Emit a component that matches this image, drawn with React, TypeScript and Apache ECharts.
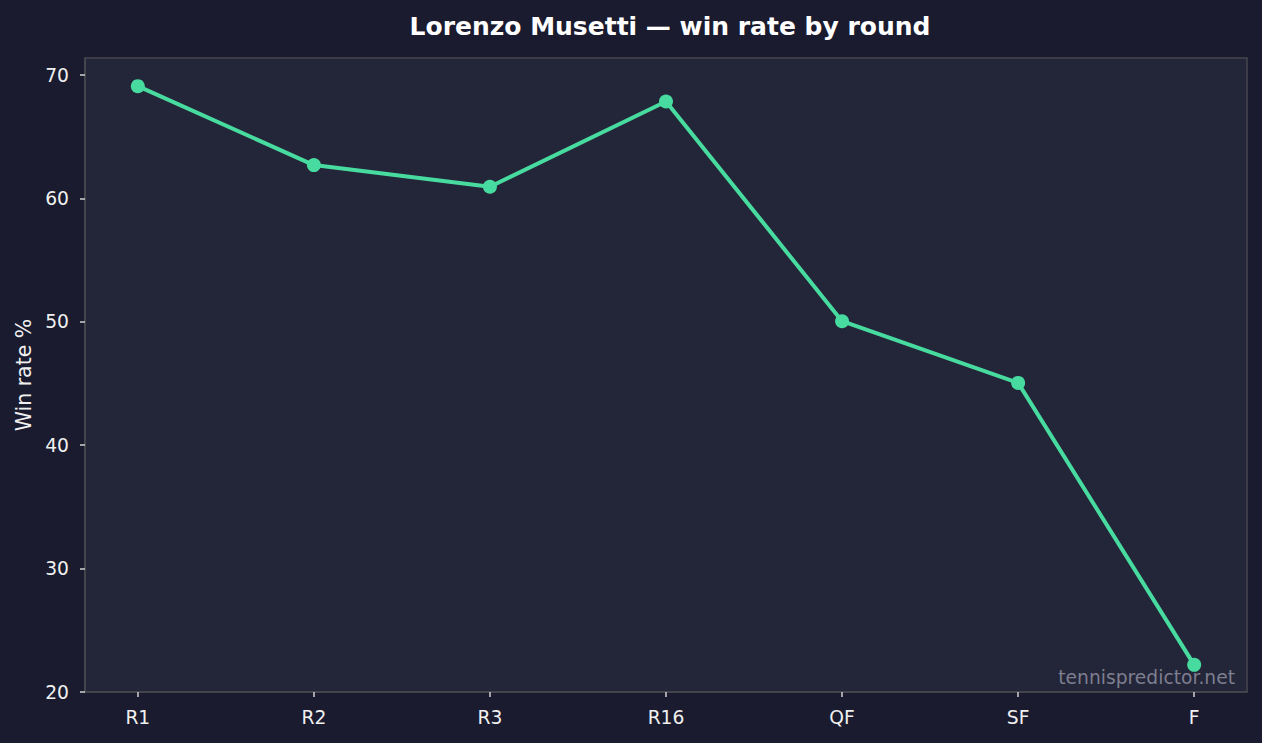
import React, { useEffect, useRef } from "react";
import * as echarts from "echarts";

const rounds = ["R1", "R2", "R3", "R16", "QF", "SF", "F"];
const winRates = [69.1, 62.7, 60.95, 67.85, 50.05, 45.05, 22.2];
const yTicks = [20, 30, 40, 50, 60, 70];

const titleText = "Lorenzo Musetti — win rate by round";
const watermark = "tennispredictor.net";

export default function App() {
  const ref = useRef<HTMLDivElement>(null);
  useEffect(() => {
    if (!ref.current) return;
    const chart = echarts.init(ref.current, null, { renderer: "svg" });
    const font = "DejaVu Sans";
    const xIdx = rounds.map((_, i) => i);
    chart.setOption({
      animation: false,
      backgroundColor: "#1a1b2e",
      textStyle: { fontFamily: font },
      title: {
        text: titleText,
        left: 665,
        top: 9,
        textAlign: "center",
        textStyle: { color: "#ffffff", fontSize: 25, fontWeight: "bold", fontFamily: font },
      },
      grid: {
        left: 85,
        right: 15,
        top: 58,
        bottom: 51,
        show: true,
        backgroundColor: "#232538",
        borderColor: "#47474f",
        borderWidth: 1.5,
      },
      xAxis: {
        type: "value",
        min: -0.3,
        max: 6.3,
        splitLine: { show: false },
        axisLine: { show: true, onZero: false, lineStyle: { color: "#47474f", width: 1.5 } },
        axisTick: {
          show: true,
          customValues: xIdx,
          length: 5,
          lineStyle: { color: "#d0d0d0", width: 1.5 },
        },
        axisLabel: {
          customValues: xIdx,
          color: "#f0f0f0",
          fontSize: 18.7,
          margin: 16,
          fontFamily: font,
          formatter: (v: number) => rounds[Math.round(v)] ?? "",
        },
      },
      yAxis: {
        type: "value",
        min: 20,
        max: 71.38,
        name: "Win rate %",
        nameLocation: "middle",
        nameGap: 51,
        nameTextStyle: { color: "#f0f0f0", fontSize: 20.5, fontFamily: font },
        splitLine: { show: false },
        axisLine: { show: true, onZero: false, lineStyle: { color: "#47474f", width: 1.5 } },
        axisTick: {
          show: true,
          customValues: yTicks,
          length: 5,
          lineStyle: { color: "#d0d0d0", width: 1.5 },
        },
        axisLabel: {
          customValues: yTicks,
          color: "#f0f0f0",
          fontSize: 18.7,
          margin: 16,
          fontFamily: font,
        },
      },
      graphic: [
        {
          type: "text",
          right: 27,
          top: 668,
          z: 1,
          style: {
            text: watermark,
            fill: "#7d7e8f",
            fontSize: 18.7,
            fontFamily: font,
          },
        },
      ],
      series: [
        {
          type: "line",
          z: 5,
          data: rounds.map((_, i) => [i, winRates[i]]),
          lineStyle: { color: "#48dba0", width: 4 },
          itemStyle: { color: "#48dba0" },
          symbol: "circle",
          symbolSize: 14,
          showSymbol: true,
        },
      ],
    });
    return () => chart.dispose();
  }, []);
  return (
    <div
      ref={ref}
      style={{ position: "fixed", left: 0, top: 0, width: 1262, height: 743 }}
    />
  );
}
